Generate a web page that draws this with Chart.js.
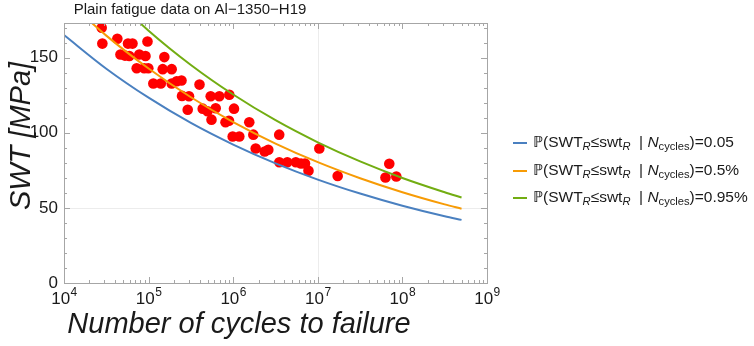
<!DOCTYPE html>
<html>
<head>
<meta charset="utf-8">
<script src="https://cdn.jsdelivr.net/npm/chart.js@4.4.1/dist/chart.umd.min.js"></script>
<style>
  html, body { margin: 0; padding: 0; background: #fff; }
  canvas { display: block; }
</style>
</head>
<body>
<canvas id="c" width="754" height="346"></canvas>
<script>
/* Plain fatigue data on Al-1350-H19: SWT vs cycles, with 3 probability curves */

// test data (cycles to failure, SWT in MPa)
const testN = [27900, 28400, 42700, 57100, 64500, 97000, 46500, 52600, 59200, 77600,
  91900, 153500, 72300, 88700, 99200, 146800, 187500, 113700, 139400, 187500,
  214900, 244800, 248300, 300400, 289900, 399700, 542000, 685300, 899600, 436000,
  497000, 621000, 1022000, 554000, 811000, 891000, 1549000, 986000, 1181000, 1729000,
  3499000, 1845000, 2357000, 2600000, 10420000, 3508000, 4358000, 5495000, 6327000, 7059000,
  7762000, 17180000, 63100000, 69980000, 84720000];
const testSWT = [169.8, 159.3, 162.5, 159.3, 159.3, 160.7, 152, 151.3, 151, 152,
  151, 150.3, 142.9, 142.9, 142.9, 142.3, 142.3, 132.7, 132.7, 132.7,
  134.2, 134.7, 124.5, 124.3, 115.3, 132, 124.3, 124.3, 125.3, 116,
  114.3, 116.3, 116, 108.7, 107, 108, 107, 97.5, 97.5, 98.7,
  98.7, 89.5, 87.5, 88.7, 89.5, 80.3, 80.3, 80.3, 79.5, 79.5,
  74.7, 71.2, 70.2, 79.3, 70.9];

// probability curves
const curveN = [1e4, 31623, 1e5, 316228, 1e6, 3162278, 1e7, 31622777, 1e8, 316227766, 5e8];
const swtP005 = [165, 142.6, 123.3, 106.5, 92.1, 79.6, 68.8, 59.5, 51.4, 44.4, 42.0];
const swtP050 = [190, 164.6, 142.7, 123.6, 107.1, 92.8, 80.4, 69.7, 60.4, 52.3, 49.4];
const swtP095 = [225, 194.4, 167.9, 145.1, 125.4, 108.3, 93.6, 80.9, 69.9, 60.4, 56.9];

const legendValues = ['0.05', '0.5%', '0.95%'];
const curveColors = ['#4a80c0', '#f79b05', '#72ad12'];
const xTickExps = [4, 5, 6, 7, 8, 9];
const yTickValues = [0, 50, 100, 150];

const FONT = '"Liberation Sans", Arial, sans-serif';
const FRAME = '#a6a6a6';

function pts(xs, ys) { return xs.map((x, i) => ({ x, y: ys[i] })); }

function curve(label, ys, color) {
  return {
    label, data: pts(curveN, ys), showLine: true, borderColor: color,
    borderWidth: 2, pointRadius: 0, cubicInterpolationMode: 'monotone', fill: false,
  };
}

// draws the legend line: P(SWT_R<=swt_R | N_cycles)=v
function drawLegendText(ctx, x, y, v) {
  const fs = 15.5;
  const parts = [
    { t: '\u2119(SWT', f: fs + 'px ' + FONT },
    { t: 'R', f: 'italic ' + (fs * 0.72) + 'px ' + FONT, dy: 4 },
    { t: '\u2264swt', f: fs + 'px ' + FONT },
    { t: 'R', f: 'italic ' + (fs * 0.72) + 'px ' + FONT, dy: 4 },
    { t: '  | ', f: fs + 'px ' + FONT },
    { t: 'N', f: 'italic ' + fs + 'px ' + FONT },
    { t: 'cycles', f: (fs * 0.72) + 'px ' + FONT, dy: 4 },
    { t: ')=' + v, f: fs + 'px ' + FONT },
  ];
  ctx.textBaseline = 'middle';
  ctx.textAlign = 'left';
  for (const p of parts) {
    ctx.font = p.f;
    ctx.fillText(p.t, x, y + (p.dy || 0));
    x += ctx.measureText(p.t).width;
  }
}

const decorations = {
  id: 'decorations',
  beforeDatasetsDraw(chart) {
    const { ctx, chartArea: a, scales: { x, y } } = chart;
    ctx.save();
    ctx.strokeStyle = '#ececec';
    ctx.lineWidth = 1;
    const gx = Math.round(x.getPixelForValue(1e7)) + 0.5;
    const gy = Math.round(y.getPixelForValue(50)) + 0.5;
    ctx.beginPath();
    ctx.moveTo(gx, a.top); ctx.lineTo(gx, a.bottom);
    ctx.moveTo(a.left, gy); ctx.lineTo(a.right, gy);
    ctx.stroke();
    ctx.restore();
  },
  afterDatasetsDraw(chart) {
    const { ctx, chartArea: a, scales: { x, y } } = chart;
    ctx.save();
    // frame
    ctx.strokeStyle = FRAME;
    ctx.lineWidth = 1;
    ctx.strokeRect(Math.round(a.left) + 0.5, Math.round(a.top) + 0.5,
      Math.round(a.right - a.left), Math.round(a.bottom - a.top));

    // ticks, inward, mirrored on top / right
    ctx.beginPath();
    for (let e = 4; e < 9; e++) {
      for (let m = 1; m < 10; m++) {
        const px = Math.round(x.getPixelForValue(m * Math.pow(10, e))) + 0.5;
        const len = m === 1 ? 6 : 3;
        ctx.moveTo(px, a.bottom); ctx.lineTo(px, a.bottom - len);
        ctx.moveTo(px, a.top); ctx.lineTo(px, a.top + len);
      }
    }
    for (let v = 0; v <= 170; v += 10) {
      const py = Math.round(y.getPixelForValue(v)) + 0.5;
      const len = v % 50 === 0 ? 6 : 3;
      ctx.moveTo(a.left, py); ctx.lineTo(a.left + len, py);
      ctx.moveTo(a.right, py); ctx.lineTo(a.right - len, py);
    }
    ctx.stroke();

    // x tick labels 10^k
    ctx.fillStyle = '#1a1a1a';
    ctx.textBaseline = 'alphabetic';
    for (const e of xTickExps) {
      const px = x.getPixelForValue(Math.pow(10, e));
      ctx.font = '17px ' + FONT;
      const w1 = ctx.measureText('10').width;
      ctx.font = '12px ' + FONT;
      const w2 = ctx.measureText(String(e)).width;
      const x0 = px - (w1 + w2) / 2;
      ctx.font = '17px ' + FONT;
      ctx.textAlign = 'left';
      ctx.fillText('10', x0, a.bottom + 21);
      ctx.font = '12px ' + FONT;
      ctx.fillText(String(e), x0 + w1 + 0.5, a.bottom + 13);
    }

    // title
    ctx.fillStyle = '#1a1a1a';
    ctx.font = '15px ' + FONT;
    ctx.textAlign = 'center';
    ctx.textBaseline = 'middle';
    ctx.fillText('Plain fatigue data on Al\u22121350\u2212H19', 190, 10);

    // axis titles
    ctx.font = 'italic 29px ' + FONT;
    ctx.fillText('Number of cycles to failure', 239, 325);
    ctx.save();
    ctx.translate(22, 136);
    ctx.rotate(-Math.PI / 2);
    ctx.fillText('SWT [MPa]', 0, 0);
    ctx.restore();

    // legend
    const ly = [143, 171, 198];
    chart.data.datasets.slice(0, 3).forEach((ds, i) => {
      ctx.strokeStyle = ds.borderColor;
      ctx.lineWidth = 2;
      ctx.beginPath();
      ctx.moveTo(513, ly[i]); ctx.lineTo(527, ly[i]);
      ctx.stroke();
      ctx.fillStyle = '#1a1a1a';
      drawLegendText(ctx, 533, ly[i], legendValues[i]);
    });
    ctx.restore();
  }
};

new Chart(document.getElementById('c'), {
  type: 'scatter',
  data: {
    datasets: [
      curve('P=0.05', swtP005, curveColors[0]),
      curve('P=0.5', swtP050, curveColors[1]),
      curve('P=0.95', swtP095, curveColors[2]),
      {
        label: 'test data', data: pts(testN, testSWT),
        pointRadius: 5.3, pointBackgroundColor: '#ff0000', pointBorderWidth: 0,
        borderColor: '#ff0000', showLine: false,
      },
    ],
  },
  options: {
    responsive: false, animation: false, devicePixelRatio: 1,
    layout: { padding: { left: 0, right: 267, top: 23, bottom: 63 } },
    plugins: { legend: { display: false }, tooltip: { enabled: false }, title: { display: false } },
    scales: {
      x: { type: 'logarithmic', min: 1e4, max: 1e9, display: false },
      y: {
        min: 0, max: 173,
        grid: { display: false, drawTicks: false },
        border: { display: false },
        ticks: {
          stepSize: 50, includeBounds: false, padding: 6, color: '#1a1a1a',
          font: { family: FONT, size: 17 },
        },
        afterFit(s) { s.width = 64; },
      },
    },
  },
  plugins: [decorations],
});
</script>
</body>
</html>
